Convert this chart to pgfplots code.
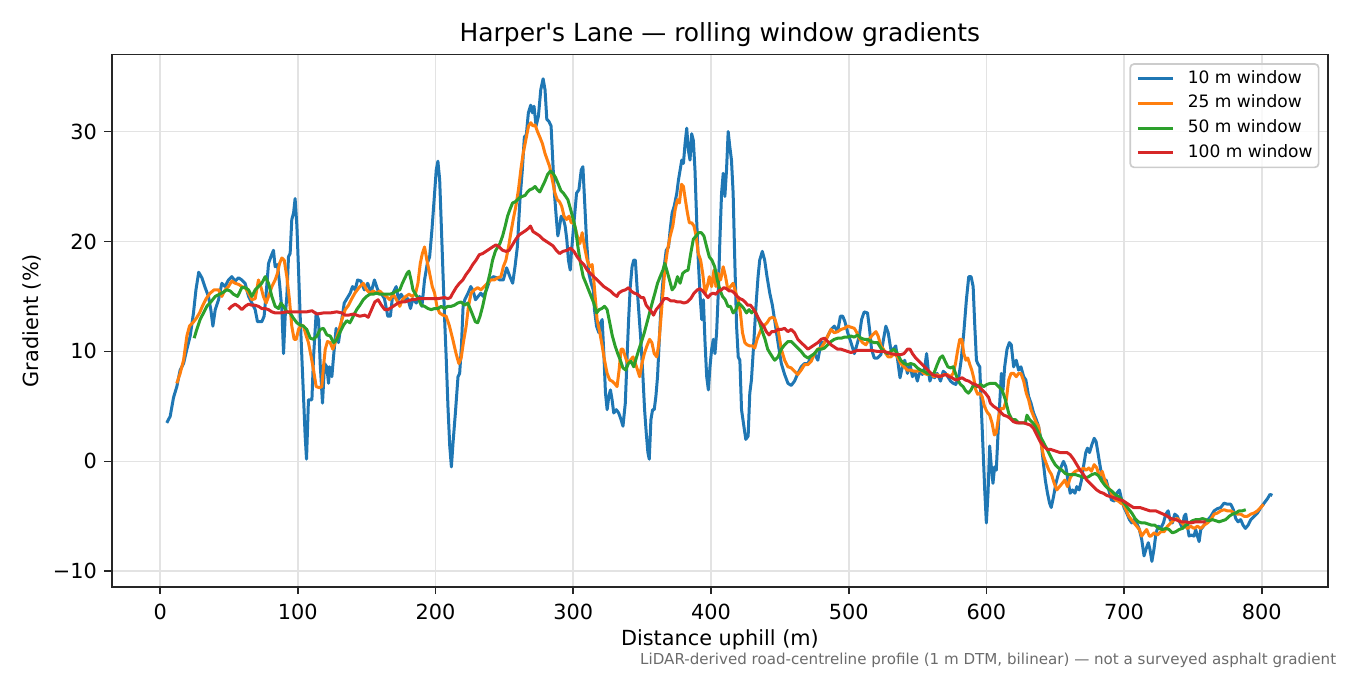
\documentclass[border=0pt]{standalone}
\usepackage{pgfplots}
\pgfplotsset{compat=1.18}
\usepackage{fontspec}
\setmainfont{DejaVu Sans}
\definecolor{tabblue}{HTML}{1F77B4}
\definecolor{taborange}{HTML}{FF7F0E}
\definecolor{tabgreen}{HTML}{2CA02C}
\definecolor{tabred}{HTML}{D62728}
\begin{document}
\begin{tikzpicture}
\begin{axis}[
  scale only axis,
  width=648.7pt, height=283.8pt,
  xmin=-35.15, xmax=848.15,
  ymin=-11.4, ymax=37.0,
  axis line style={line width=0.9pt, black!85},
  tick align=outside,
  tick pos=left,
  major tick length=3.9pt,
  tick style={line width=0.9pt, black!85},
  xtick={0,100,200,300,400,500,600,700,800},
  xticklabels={0,100,200,300,400,500,600,700,800},
  ytick={-10,0,10,20,30},
  yticklabels={−10,0,10,20,30},
  ticklabel style={font=\fontsize{11.1}{13}\selectfont, inner sep=0pt},
  xticklabel shift=4.95pt,
  yticklabel shift=3.9pt,
  grid=major,
  grid style={line width=0.9pt, black!11},
  every axis title/.style={at={(axis description cs:0.5,1)}, anchor=base, yshift=6.8pt, font=\fontsize{13.3}{16}\selectfont},
  title={Harper\textquotesingle s Lane — rolling window gradients},
  every axis x label/.style={at={(axis description cs:0.5,-0.111)}, anchor=base, font=\fontsize{11.1}{13}\selectfont},
  every axis y label/.style={at={(axis description cs:-0.0655,0.5)}, anchor=center, rotate=90, font=\fontsize{11.1}{13}\selectfont},
  xlabel={Distance uphill (m)},
  ylabel={Gradient (\%)},
  legend style={at={(axis description cs:1,1)}, anchor=north east, xshift=-4.6pt, yshift=-4.6pt,
    draw=black!20, line width=0.9pt, rounded corners=2pt, fill=white, fill opacity=0.8, text opacity=1,
    font=\fontsize{9.1}{11}\selectfont, inner xsep=3.2pt, inner ysep=3.8pt,
    column sep=6.9pt, row sep=5.3pt,
    nodes={inner sep=0pt, text height=6.4pt, text depth=1.5pt}},
  legend cell align=left,
  legend image code/.code={\draw[#1] (0pt,0pt) -- (19pt,0pt);},
  every axis plot/.append style={line width=1.6pt, line join=round},
]
\addplot[tabblue] coordinates {
(4.8,3.5)(7.3,4.1)(9.7,5.8)(12.1,6.8)(14.5,8.3)(17,8.9)(19.4,10.2)(21.8,11.4)(24.2,13.5)(26,15.6)(28,17.2)(30.3,16.7)(32.7,15.8)(35.1,15)(36.8,13.8)(38.3,12.3)(40,13.8)(42.4,14.7)(44.8,16.2)(47.2,15.9)(49.6,16.5)(52,16.8)(54.5,16.4)(56.9,16.7)(59.3,16.5)(61.7,16.2)(64.2,15)(66.6,14.4)(69,13.8)(70.7,12.7)(73.8,12.7)(75.5,13.2)(77,15.3)(78.7,18)(80.4,18.6)(82.3,19.2)(83.5,17.7)(85.2,17.9)(86.7,16.2)(88.4,13.8)(89.6,9.8)(90.8,13.2)(92,15)(93.2,18.6)(94.4,18.9)(95.6,22)(96.9,22.6)(98,23.9)(99.3,21.4)(100.5,17.4)(101.7,13.2)(102.9,9.5)(104.1,5.9)(105.3,2.3)(106.3,0.2)(107.7,5.6)(110.2,5.6)(111.4,9.5)(113.3,13.5)(115,12.9)(116.2,8.9)(117.9,5.3)(119.4,8.9)(121,8.6)(122.3,7.1)(123,8.6)(124.7,7.7)(125.9,9.5)(127.8,12.1)(129.5,10.8)(132,13)(133.7,14.4)(135.6,14.8)(138,15.3)(139.7,15.9)(141.6,15.6)(143.4,16.5)(145.8,16.4)(148.3,15.6)(150.7,16.2)(153.1,15.3)(155.6,16.5)(158,15.6)(160.4,15.3)(162.9,14.8)(165.3,13.2)(167.2,13.2)(169,15.3)(171.4,15.9)(173.1,14.7)(175,15.2)(177.4,14.7)(179.9,14.8)(181.8,13.9)(183.5,14.8)(186,14.4)(188.4,15)(190.1,14.1)(192,16.5)(194,18)(195.7,18.6)(197.4,21.1)(199.3,24.4)(200.5,26.5)(201.7,27.3)(203,25.6)(204.2,21.4)(205.4,17.1)(206.6,12.9)(207.8,9.2)(209,5)(210.3,1.4)(211.5,-0.5)(212.7,1.7)(214.4,4.4)(216.3,7.7)(217.5,8)(218.8,10.5)(220,14.1)(221.2,14.7)(223.6,15.3)(225.6,15.9)(227.3,15.5)(229,14.7)(230.9,15)(232.9,15.3)(234.6,15)(237,15.6)(239.4,16.5)(241.9,16.8)(244.3,16.7)(246.7,16.5)(249.2,16.5)(251.6,17.6)(254,16.8)(256,16.2)(257.7,17.7)(259.4,19.5)(261.3,23.8)(263,26.5)(264.5,29.5)(265.9,29.7)(267.4,31.7)(269.1,32.4)(270.3,31.7)(271.5,32.3)(273,30.5)(274.7,31.4)(276.4,33.8)(278.1,34.8)(279.5,33.8)(280.8,31.1)(282.4,30.9)(283.9,30.5)(285.1,27.4)(286.3,24.4)(287.6,22.3)(288.8,20.5)(289.7,21.1)(291.2,22.3)(292.9,22)(294.1,21.4)(295.3,20.2)(296.5,18.3)(297.8,17.4)(298.6,18.9)(300.5,21.7)(302.4,24.4)(304.1,24.7)(305.8,26.5)(307,26.8)(308.2,23.8)(309.6,20.2)(311.3,17.1)(313,16.2)(314.5,15.6)(315.4,13.8)(316.9,12.3)(318.6,11.7)(319.8,12.6)(321,12.9)(322.2,9.8)(323.4,6.2)(324.6,4.7)(325.8,5.9)(327,6.5)(328.2,5.6)(329.4,4.4)(331.3,4.7)(333,4.4)(334.7,3.8)(336.1,3.2)(337.8,5.3)(339,9.2)(340.2,12.9)(341.4,15.9)(342.7,17.7)(343.9,18.3)(345.1,18.3)(346.3,15.9)(347.5,13.8)(349.2,10.8)(350.6,7.7)(351.8,4.7)(353,2.6)(354.2,0.8)(355.2,0.2)(356.4,3.8)(357.6,4.7)(358.8,4.7)(360,5.9)(361.2,7.7)(362.4,10.8)(363.6,13.8)(364.8,15.9)(366,17.7)(367.5,19.2)(369.2,19.5)(370.4,21.1)(371.8,22.6)(373.3,23.2)(375.2,24.4)(376.4,25.6)(377.6,26.5)(378.8,27.4)(380,27.1)(381.2,28.9)(382.4,30.3)(383.6,28.3)(384.8,27.4)(386,29.8)(387.2,29.2)(388.4,26.5)(389.6,22)(390.8,18.3)(392,15.3)(393.3,12.9)(394.5,14.7)(395.7,10.8)(396.9,7.7)(398.1,6.5)(399.3,8.6)(400.5,10.2)(401.7,11.1)(402.9,9.8)(404.1,11.7)(405.3,15.3)(406.5,20.2)(407.7,24.4)(408.9,26.2)(410.1,24.1)(411.3,26.5)(412.5,30)(413.7,28.6)(414.9,27.4)(416.1,24.4)(417.3,18.3)(418.6,12.3)(419.8,9.5)(421,9.2)(422.2,4.7)(423.9,3.2)(425.3,2)(427,2.3)(428.2,6.2)(429.4,7.4)(430.6,9.8)(431.8,12.3)(433,14.7)(434.2,16.8)(435.4,18.3)(437.3,19.1)(439,18.3)(440.7,16.8)(442.7,15.3)(444.6,14.2)(446.3,12.8)(448.7,10.8)(451.1,8.9)(453.5,7.9)(455.9,7.1)(458.3,6.9)(460.7,7.3)(463.1,8)(465.5,8.6)(468,8.9)(470.4,8.9)(472.8,9.5)(475.2,9.8)(477.6,9.2)(480,10.8)(482.4,10.8)(484.8,11.4)(487.2,12)(489.6,12.3)(492,11.8)(494,13.2)(495.7,13.2)(497.3,12.7)(499.3,11.7)(501.7,10.8)(504.1,9.8)(506,10.6)(507.7,11.4)(509.4,12.9)(511.3,13.6)(513.7,13.5)(515.2,12)(516.6,10.2)(518.6,9.4)(521,9.4)(523.4,9.7)(525.3,11.1)(527,12.3)(528.7,11.7)(530.6,10.2)(532.5,10.2)(534.2,10.5)(535.9,8.9)(537.3,7.6)(539,8.6)(540.7,9.2)(542.7,8)(544.6,8.8)(546.3,7.7)(548,8.2)(549.9,7.3)(551.8,8.3)(553.5,7.9)(555.2,8.5)(556.6,9.8)(557.8,8.3)(559,7.3)(560.7,7.9)(562.4,7.6)(564.3,8)(566.7,7.3)(568.7,8.2)(570.4,8)(572,7.7)(574,7.3)(575.9,7.1)(577.8,7)(580,7.7)(581.7,9.2)(583.6,11.7)(585.5,14.7)(587.2,16.8)(588.9,16.8)(590.4,15.9)(591.6,12.3)(592.8,9.2)(593.7,8.9)(595.2,8.6)(596.4,4.7)(597.6,1.1)(598.8,-2.6)(600,-5.6)(601.2,-2.9)(602.4,1.4)(603.6,-0.5)(604.8,-2)(606,-0.5)(607.2,-0.8)(608.5,2.6)(609.7,5.3)(610.9,8)(612.1,6.5)(613.3,8.6)(615,10.2)(616.7,10.8)(618.1,10.6)(619.8,8.6)(621.7,9.2)(623.4,8.3)(625.1,8.6)(627.1,7.7)(628.7,7.4)(630.7,5.9)(632.4,5.3)(634.3,4.4)(636.2,3.8)(637.9,3.2)(639.6,2)(641.1,0.2)(642.8,-1.7)(644.4,-2.9)(645.9,-3.8)(647.1,-4.2)(648.8,-3.2)(650.5,-2)(652.4,-1.1)(654.3,-0.5)(656,0)(657.7,-0.5)(659.2,-1.7)(660.9,-2.9)(662.6,-2.6)(664.3,-2.9)(665.7,-2.3)(667.4,-2.6)(669.1,-1.7)(670.5,-0.5)(672.2,0.8)(673.4,1.2)(674.9,0.8)(676.6,1.5)(678.3,2.1)(679.7,1.8)(681.4,0.5)(683.1,-0.8)(685,-1.7)(687,-1.7)(688.9,-2.6)(690.8,-3.5)(692.8,-3.6)(694.7,-2.9)(696.6,-2.6)(698.3,-3.5)(700,-4.2)(701.9,-4.7)(703.9,-5.3)(705.6,-5.6)(707.2,-5.3)(709.2,-5.6)(711.1,-6.2)(712.8,-7.1)(714.5,-8.6)(715.9,-8)(717.6,-7.4)(718.8,-8)(720.2,-9.1)(721.7,-8)(723.2,-6.5)(724.9,-5.9)(726.6,-6.1)(728.6,-5.6)(730.3,-4.8)(732,-4.5)(733.4,-5.3)(735.1,-5.6)(736.8,-4.8)(738.7,-5)(740.7,-5.6)(742.4,-6.1)(743.6,-5)(744.8,-4.8)(746,-5.9)(747.2,-6.8)(748.9,-6.7)(750.8,-6.8)(752,-6.2)(753.3,-6.8)(754.5,-7.3)(755.7,-6.2)(757.6,-5.9)(759.3,-5.6)(761,-5.3)(763,-5)(765.4,-4.5)(767.8,-4.3)(770.2,-4.2)(772.6,-3.8)(775.1,-3.9)(777.5,-3.9)(779.4,-4.4)(781.1,-5.2)(782.8,-5.5)(784.7,-5.3)(786.4,-5.8)(788.1,-6.1)(790.1,-5.8)(792,-5.3)(794.4,-5)(796.9,-4.7)(799.3,-4.2)(801.7,-3.8)(804.1,-3.4)(806,-3)(807.7,-3.1)
};
\addlegendentry{10 m window}
\addplot[taborange] coordinates {
(12.1,7.1)(14.5,8)(17,9.2)(19.4,11.4)(21.3,12.3)(23.7,12.6)(26.2,13)(28.6,13.5)(31,14.2)(33.4,14.8)(36.3,15.3)(39.2,15.6)(42.4,15.6)(44.8,15)(47.2,15.6)(49.6,15.9)(52,16.4)(54.5,16.2)(56.9,16.1)(59.3,15.9)(61.7,15.8)(64.2,15.3)(66.6,14.7)(69,14.8)(71.4,16.5)(73.1,15.9)(75,15)(77,14.4)(78.7,15)(81.1,15.9)(83.5,16.5)(85.2,17.1)(86.7,18)(88.4,18.5)(90.1,18.3)(92,16.8)(93.9,14.7)(95.6,12.3)(97.3,11.1)(98.8,11.1)(100.5,12)(102.4,12.4)(104.1,12.3)(106.1,11.4)(107.7,10.8)(109.7,9.5)(111.4,8.3)(113.3,6.8)(115.7,6.7)(117.4,6.8)(118.6,8.6)(119.9,10.2)(121.5,10.9)(123.5,10.8)(125.4,10.2)(127.1,10.8)(129.5,11.8)(132,12.9)(134.4,13.8)(136.8,14.2)(139.2,14.8)(141.4,15.3)(145,15.9)(147.5,16.2)(149.9,15.6)(152.3,15.3)(154.7,15.5)(157.1,15.3)(159.5,15.5)(161.9,15.2)(164.3,15)(166.7,14.7)(169.2,15.2)(171.6,14.7)(174,14.1)(175.9,14.7)(178.3,15)(180.7,15.2)(183.1,15)(185.5,15.3)(187.2,16.2)(188.9,18)(190.4,18.9)(192,19.5)(193.7,18.3)(195.7,17.1)(197.6,15.9)(199.3,15.3)(201,14.1)(202.9,13.5)(205.3,13.3)(207.7,13.2)(210.1,12.3)(212.5,11.1)(214.9,9.8)(216.9,8.9)(218.6,9.4)(220.2,10.8)(222.2,12.3)(223.9,14.1)(225.8,15.3)(228.2,15.6)(230.6,15.8)(233,15.6)(235.4,15.9)(237.8,16.2)(240.2,16.5)(242.7,16.5)(245.1,16.7)(247.5,16.8)(249.2,17.7)(251.1,18.3)(253,19.5)(254.7,20.8)(256.4,22)(258.3,23.2)(260.2,24.7)(261.9,26.5)(263.6,28)(265.5,29.2)(267.5,30.5)(269.2,30.8)(270.8,30.5)(272.3,30.6)(274,30)(275.7,29.5)(277.6,28.9)(279.5,28)(281.2,27.4)(282.9,26.8)(284.8,25.6)(286.7,24.4)(288.4,23.8)(290.1,23.6)(291.6,23.2)(293.3,22.3)(295.2,22)(296.9,22.3)(298.6,21.7)(300.5,21.7)(302.9,20.5)(304.8,19.8)(306.5,20.8)(308.2,19.5)(310.1,18.3)(312,17.7)(313.7,17.9)(314.9,16.5)(316.1,14.7)(317.3,12.9)(319.3,11.7)(321,10.5)(322.7,9.2)(324.6,8)(326.5,7.4)(328.2,7.3)(329.9,7.1)(331.8,6.8)(333.3,8.3)(334.7,10.2)(336.1,10.2)(337.8,9.5)(339.5,8.9)(341.4,9.2)(343.4,9.5)(345.1,8.9)(346.7,8.3)(348.2,7.7)(349.9,8.9)(351.6,9.8)(353.5,10.5)(355.4,11.1)(357.1,10.8)(358.8,9.8)(360.7,9.5)(362.2,10.8)(363.6,12.9)(365.1,15.3)(366.7,17.7)(368.4,19.2)(370.4,20.5)(372.3,21.4)(374,22.9)(375.7,23.8)(377.1,23.5)(378.6,25.2)(380,25)(381.4,23.8)(382.9,22.6)(384.3,21.7)(386,21.7)(387.7,21.4)(389.2,20.5)(390.8,18.9)(392.5,18.3)(394,17.1)(395.7,15.3)(397.3,15.9)(398.8,16.8)(400.5,15.9)(402.2,17.4)(403.6,15.9)(405.3,17.1)(407,16.5)(408.9,17.7)(410.6,16.8)(412.3,15.6)(414.2,15.9)(416.1,16.2)(418.1,15.3)(419.8,14.7)(421.4,13.5)(422.9,11.7)(424.6,10.8)(426.3,10.6)(428.2,10.5)(430.1,10.5)(431.8,10.3)(433.5,11.1)(435.4,11.7)(437.3,12.3)(439,12.4)(440.7,12.6)(442.7,13)(444.6,13.1)(446.3,13)(448.7,12)(451.1,10.2)(453.5,9.2)(455.9,8.6)(458.3,8.5)(460.7,8.2)(463.1,7.9)(465.5,8.3)(468,8.8)(470.4,8.8)(472.8,9.1)(475.2,9.8)(477.6,10.2)(480,10.3)(482.4,10.8)(484.8,11.4)(487.2,12)(489.6,11.7)(492,11.8)(494.5,12)(496.9,12.1)(499.3,12.3)(501.7,12.2)(504.1,12.1)(506,11.7)(507.7,11.2)(510.1,10.8)(512.5,10.6)(514.9,11.1)(517.3,11.5)(519.8,11.8)(521.4,11.4)(523.4,10.5)(525.3,10.2)(527,9.8)(528.7,9.5)(530.6,9.5)(533,9.8)(535.4,9.5)(537.8,8.9)(540.2,8.6)(542.7,8.3)(545.1,8.3)(547.5,8.2)(549.9,8.2)(552.3,8.3)(554.7,8)(557.1,7.9)(559.5,8)(561.9,7.7)(564.3,7.9)(566.7,7.7)(569.2,7.9)(571.6,7.9)(574,7.7)(575.9,8)(577.6,8.9)(579.3,10.2)(580.7,11.1)(582.2,11.1)(583.6,9.8)(585.1,9.2)(586.5,9.4)(588,8.8)(589.4,8.3)(590.8,7.6)(592.3,6.5)(593.7,6.1)(595.2,6.2)(596.9,5.9)(598.6,5)(600.5,4.5)(602.4,4.2)(604.1,3.5)(605.8,2.4)(607.2,2.6)(608.9,4.1)(610.6,4.8)(612.6,4.8)(614.5,5.6)(616.2,7.4)(617.9,8)(619.8,8)(621.7,7.7)(623.4,8)(625.1,8)(627.1,7.3)(629,6.2)(630.7,5.6)(632.4,4.7)(634.3,4.1)(636.2,3.5)(637.9,3.2)(639.6,1.7)(641.5,0.5)(643.5,-0.2)(645.4,-0.8)(647.3,-1.2)(649.3,-2)(651.2,-2.6)(653.1,-2.3)(655.1,-2)(657,-1.7)(658.9,-2.3)(660.9,-1.5)(662.8,-1.1)(664.7,-0.9)(666.7,-0.8)(668.6,-0.8)(670.5,-0.6)(672.5,-0.8)(674.4,-0.6)(676.3,-0.9)(678.3,-0.3)(680.2,-0.6)(682.1,-1.4)(684.1,-0.9)(686,-1.7)(687.9,-2.3)(689.9,-2.6)(691.8,-3.2)(693.7,-3.5)(695.7,-3.6)(697.6,-3.8)(699.5,-3.9)(701.4,-4.4)(703.4,-5)(705.3,-5.3)(707.2,-5.6)(709.2,-5.9)(711.1,-6.2)(712.8,-6.8)(714.5,-6.5)(716.4,-6.2)(718.4,-6.8)(719.4,-6.8)(721.8,-6.5)(724.2,-6.7)(726.6,-6.4)(729.1,-6.4)(731.5,-5.9)(733.9,-5.6)(736.3,-5.3)(738.7,-5.2)(741.2,-5.5)(743.6,-5.8)(746,-6.1)(748.4,-5.9)(750.8,-6.1)(753.3,-5.9)(755.7,-6.1)(758.1,-5.8)(760.6,-5.6)(763,-5.3)(765.4,-4.8)(767.8,-4.7)(770.2,-4.5)(772.6,-4.4)(775.1,-4.5)(777.5,-4.5)(779.9,-4.7)(782.3,-4.8)(784.7,-4.8)(787.2,-5)(789.6,-5)(792,-4.8)(794.4,-4.7)(796.9,-4.5)(799.3,-4.2)(801.2,-3.9)
};
\addlegendentry{25 m window}
\addplot[tabgreen] coordinates {
(24.7,11.2)(26.6,12)(29,12.9)(31.5,13.5)(33.9,14.1)(36.8,14.5)(40,15)(43.1,15.2)(46,15.4)(48.4,15.6)(50.8,15.5)(53.3,15.2)(56.2,15)(59.3,15.8)(61.7,15.8)(64.2,15.6)(66.6,15)(69,15.6)(71.4,15.9)(73.8,16.2)(76.3,16.8)(78.7,16.2)(81.1,15)(83.5,14.1)(86,13.9)(87.7,14.4)(89.6,14.1)(92,13.6)(94.4,13.5)(96.9,13)(99.3,12.6)(101.7,12.4)(104.1,12.3)(106.5,12)(109,11.2)(111.4,11.1)(113.8,11.4)(116.2,12)(118.6,12.1)(121.1,11.5)(123.5,11.4)(125.9,10.8)(128.3,11.1)(130.8,11.8)(133.2,12.4)(135.6,12.8)(137.8,12.6)(140.2,13.2)(142.7,13.8)(145,14.2)(147.5,14.7)(149.9,15)(152.3,15.2)(154.7,15.2)(157.1,15.3)(159.5,15.2)(161.9,15.2)(164.3,15.2)(166.7,15.2)(169.2,15.3)(171.6,15.5)(174,15.6)(175.9,16.2)(177.8,16.7)(179.3,17.1)(180.7,17.3)(182.2,16.5)(183.6,15.6)(185.5,15.2)(187.5,14.8)(189.6,14.2)(192,14.1)(194.5,13.9)(196.9,13.8)(199.3,13.9)(201.7,13.9)(204.1,14.1)(206.5,13.9)(208.9,14.1)(211.3,14.1)(213.7,14.2)(216.1,14.4)(218.6,14.5)(221,14.2)(223.4,14.4)(225.1,13.9)(227,13.3)(228.9,12.7)(230.6,12.6)(232.3,13.2)(234.2,14.1)(236.1,15.2)(237.8,16.2)(239.5,17.1)(241.4,18.3)(243.4,19.1)(245.1,19.5)(246.7,19.8)(248.7,20.5)(250.6,21.4)(252.3,22.3)(254,22.9)(255.9,23.5)(257.8,23.6)(259.5,23.8)(261.2,24)(263.1,24.1)(265.1,24.2)(266.7,24.5)(268.4,24.7)(270.4,24.8)(272.3,25)(274,24.7)(275.7,24.5)(277.6,25)(279.5,25.5)(281.4,26.1)(283.4,26.4)(285.3,26.2)(287.2,25.8)(289.2,25.2)(291.1,24.6)(292.8,24.4)(294.5,24.1)(296.1,23.8)(298.1,22.9)(300,22)(301.7,21.1)(303.4,19.5)(305.3,18)(307.2,16.8)(309.2,16.2)(311.1,15.6)(313,15)(314.9,14.4)(316.9,13.5)(318.8,13.8)(320.7,13.9)(322.7,14.1)(324.6,13.8)(326.5,12.6)(328.4,11.4)(330.4,10.5)(332.3,9.8)(334.2,9.2)(336.1,8.5)(338.1,8.3)(340,8.9)(341.9,9.1)(343.9,8.6)(345.8,9.4)(347.7,10.2)(349.6,10.9)(351.6,11.7)(353.5,12.6)(355.4,13.5)(357.3,14.4)(359.3,15.3)(361.2,16.2)(363.1,16.8)(365.1,17.4)(366.5,18)(367.9,17.4)(369.9,16.5)(371.8,15.6)(373.7,15.9)(375.7,16.8)(377.6,16.2)(379.5,17.1)(381.4,17.3)(383.4,17.4)(385.3,18.9)(387.2,20.2)(389.2,20.5)(391.1,20.8)(393,20.8)(394.9,20.5)(396.9,19.5)(398.8,18.6)(400.7,18.3)(402.7,17.7)(404.6,16.5)(406.5,15.6)(408.4,15)(410.4,14.7)(412.3,14.1)(414.2,14.1)(416.1,13.5)(418.1,13.8)(420,14.4)(421.9,14.2)(423.9,13.9)(425.8,13.5)(427.7,13.8)(429.6,13.5)(431.6,13.8)(433.5,13.2)(435.4,12.6)(437.3,11.8)(439.3,11.1)(441.2,10.2)(443.1,9.8)(445.1,9.4)(446.3,9.2)(448.7,9.5)(451.1,10.2)(453.5,10.6)(455.9,10.9)(458.3,10.9)(460.7,10.6)(463.1,10.3)(465.5,10)(468,9.6)(470.4,9.4)(472.8,9.6)(475.2,9.8)(477.6,10.2)(480,10.2)(482.4,10.3)(484.8,10.6)(487.2,10.9)(489.6,11.1)(492,11.2)(494.5,11.2)(496.9,11.3)(499.3,11.3)(501.7,11.4)(504.1,11.3)(506.5,11.5)(508.9,11.2)(511.3,11.1)(513.7,11.1)(516.1,10.9)(518.6,10.8)(521,10.8)(523.4,10.3)(525.8,10)(528.2,9.8)(530.6,10)(533,10.2)(535.4,9.8)(537.8,9.2)(540.2,8.9)(542.7,8.8)(545.1,8.9)(547.5,8.8)(549.9,8.5)(552.3,8.3)(554.7,8.2)(557.1,8)(559.5,7.9)(561.9,8)(564.3,8.8)(566.3,9.4)(568.2,9.6)(570.1,9.1)(572,8.6)(574,8.5)(575.9,8.6)(577.6,8)(579.3,7.4)(581.2,7)(583.1,6.8)(585.1,6.4)(587,6.2)(588.9,6.5)(590.8,7)(593.3,6.8)(595.7,7)(598.1,6.8)(600.5,7)(602.9,7.1)(606.5,7.1)(608.9,6.8)(611.4,6.5)(613.8,5.6)(616.2,4.4)(618.6,3.8)(621,3.8)(623.4,3.5)(625.8,3.5)(628.3,3.5)(629.5,4.2)(631.4,3.8)(633.8,3.5)(635.5,3.2)(637.9,2.6)(640.3,2)(642.8,1.4)(645.2,0.8)(647.6,0.2)(650,-0.3)(652.4,-0.6)(654.8,-0.8)(657.2,-1.1)(659.7,-1.2)(662.1,-1.2)(664.5,-1.2)(666.9,-1.3)(669.3,-1.4)(671.7,-1.5)(674.2,-1.4)(676.6,-1.2)(679,-1.1)(681.4,-1.3)(683.8,-1.8)(686.2,-2.2)(688.6,-2.5)(691.1,-2.7)(693.5,-3)(695.9,-3.2)(698.3,-3.5)(700.7,-3.9)(703.1,-4.3)(705.6,-4.7)(708,-5.2)(710.4,-5.5)(712.8,-5.6)(715.2,-5.6)(717.6,-5.7)(720,-5.8)(722.3,-5.8)(725.4,-6.1)(727.8,-6.2)(730.3,-6.1)(732.7,-6.2)(735.1,-6.5)(737.5,-6.4)(740,-6.2)(742.4,-6.1)(744.8,-5.8)(747.2,-5.6)(749.6,-5.4)(752.1,-5.3)(754.5,-5.3)(756.9,-5.2)(759.3,-5.3)(761.7,-5.4)(764.2,-5.3)(766.6,-5.4)(769,-5.5)(771.4,-5.4)(773.8,-5.3)(776.3,-5)(778.7,-4.8)(781.1,-4.7)(783.5,-4.5)(785.9,-4.5)(788.4,-4.4)
};
\addlegendentry{50 m window}
\addplot[tabred] coordinates {
(49.6,13.8)(52,14.1)(54.5,14.3)(56.9,14.1)(59.3,13.8)(61.7,14.1)(64.2,14.3)(66.6,14.2)(69,14.2)(71.4,14.1)(73.8,13.9)(76.3,13.9)(78.7,13.8)(81.1,13.6)(83.5,13.5)(87.2,13.5)(92,13.6)(96.9,13.6)(101.7,13.6)(106.5,13.6)(110.2,13.7)(113.8,13.4)(118.6,13.5)(123.5,13.5)(128.3,13.6)(132,13.5)(134.4,13.3)(136.8,13.3)(140.4,13.4)(145,13.2)(148.7,13.3)(151.1,13.1)(153.5,13.8)(155.9,14.5)(158.3,14.7)(160.7,14.2)(163.1,13.8)(165.5,13.8)(168,14)(170.4,14.2)(172.8,14.4)(175.2,14.5)(177.6,14.5)(180,14.6)(182.4,14.7)(184.8,14.7)(187.2,14.8)(192,14.8)(196.9,14.8)(201.7,14.8)(206.5,14.9)(208.9,14.8)(210.8,14.9)(212.5,15.3)(214.9,15.8)(217.3,16.2)(219.8,16.5)(222.2,17)(224.6,17.4)(227,17.9)(229.4,18.3)(231.8,18.8)(234.2,18.9)(236.6,19.1)(239,19.3)(241.4,19.5)(243.9,19.7)(246.3,19.5)(248.7,19.2)(251.1,19.1)(253.5,19.2)(255.9,19.7)(258.3,20.2)(260.7,20.6)(263.1,20.8)(265.5,21)(267.5,21.2)(268.9,21.4)(270.8,20.9)(273.3,20.7)(275.7,20.5)(278.1,20.2)(280.5,20)(282.9,19.8)(285.3,19.6)(287.7,19.2)(290.1,18.9)(292.5,19.1)(295.7,19.2)(298.1,19.4)(300.5,19.1)(302.9,18.6)(305.3,18.2)(307.7,17.9)(310.1,17.4)(312.5,17.1)(314.9,16.8)(317.3,16.5)(319.8,16.2)(322.2,15.9)(324.6,15.7)(327,15.5)(329.4,15.2)(331.8,15)(333,15.3)(335.4,15.5)(337.8,15.6)(340.2,15.8)(341.9,15.5)(344.3,15.3)(346.7,15.2)(349.2,14.9)(351.1,14.9)(353,14.2)(354.9,13.9)(356.9,13.6)(358.3,13.3)(360.2,13.8)(362.2,14.1)(364.1,14.4)(366,14.8)(368.4,14.8)(370.8,14.6)(373.3,14.6)(375.7,14.5)(378.1,14.5)(380.5,14.4)(382.9,14.5)(385.3,14.8)(387.7,15.3)(390.1,15.6)(392,15.7)(394,15.5)(395.9,15.2)(397.8,14.9)(399.8,15.2)(401.7,15.3)(403.6,15.2)(405.5,15.5)(407.5,15.6)(409.4,15.8)(411.3,15.7)(413.3,15.5)(415.2,15.5)(417.1,15.3)(419,15)(421,14.8)(422.9,14.7)(424.8,14.5)(426.7,14.2)(428.7,14.2)(430.6,13.9)(432.5,13.5)(434.5,13)(436.4,12.6)(438.3,12.3)(440.2,11.8)(442.2,11.5)(444.1,11.8)(446.3,11.8)(448.7,12)(451.1,12)(453.5,12.1)(455.9,11.8)(458.3,12)(460.7,11.7)(463.1,11.1)(465.5,10.8)(468,10.5)(470.4,10.2)(472.8,10.4)(475.2,10.6)(477.6,10.8)(480,11.1)(482.4,11.2)(484.8,10.9)(487.2,10.6)(489.6,10.4)(492,10.2)(494.5,10.2)(496.9,10.1)(499.3,10)(501.7,9.9)(504.1,10)(506.5,10.1)(511.3,10.1)(516.1,10.1)(521,10)(525.8,10)(530.6,9.8)(535.4,9.7)(537.8,9.7)(540.2,9.8)(542.7,10.2)(544.6,10.2)(546.3,9.8)(548.7,9.4)(551.1,9.1)(553.5,8.8)(555.9,8.5)(558.3,8.2)(560.7,7.9)(563.1,7.8)(565.5,7.7)(568,7.8)(570.4,7.9)(572.8,7.7)(575.2,7.6)(577.6,7.4)(580,7.5)(582.4,7.6)(584.8,7.4)(587.2,7.3)(589.6,7.1)(592,7)(594.5,6.8)(596.9,6.5)(599.3,6.2)(601.7,5.8)(602.9,5.3)(605.3,5)(607.7,4.8)(610.1,4.5)(612.6,4.2)(615,4.1)(617.4,3.9)(619.8,3.6)(622.2,3.5)(624.6,3.5)(627.1,3.5)(629.5,3.4)(631.9,3.3)(634.3,3)(636.7,2.4)(639.1,1.8)(641.5,1.4)(644,1.1)(646.4,1.1)(648.8,1)(651.2,0.9)(653.6,0.8)(656,0.8)(658.5,0.8)(660.9,0.6)(663.3,0.2)(665.7,-0.3)(668.1,-0.8)(670.5,-1.2)(672.9,-1.7)(675.4,-2)(677.8,-2.3)(680.2,-2.6)(682.6,-2.8)(685,-2.9)(687.4,-3.1)(689.9,-3.2)(692.3,-3.3)(694.7,-3.4)(697.1,-3.5)(699.5,-3.6)(701.9,-3.8)(704.3,-4)(706.8,-4.2)(709.2,-4.2)(711.6,-4.2)(714,-4.3)(716.4,-4.4)(718.8,-4.5)(723,-4.5)(726.6,-4.7)(730.3,-4.9)(733.9,-5.2)(737.5,-5.3)(741.2,-5.5)(744.8,-5.5)(748.4,-5.6)(752,-5.5)(755.7,-5.5)(759.3,-5.5)
};
\addlegendentry{100 m window}
\end{axis}
\path (current axis.south east) ++(4.5pt,-41.6pt)
  node[anchor=base east, font=\fontsize{8.05}{9.5}\selectfont, text=black!58, inner sep=0pt]
  {LiDAR-derived road-centreline profile (1 m DTM, bilinear) — not a surveyed asphalt gradient};
\pgfresetboundingbox
\path[use as bounding box] (current axis.south west) ++(-59.6pt,-47.1pt) rectangle ++(720pt,360pt);
\end{tikzpicture}
\end{document}
